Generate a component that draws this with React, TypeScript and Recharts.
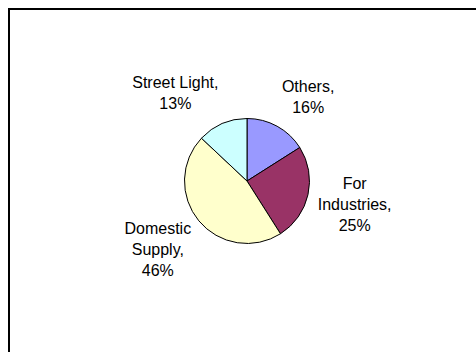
import { PieChart, Pie, Cell } from "recharts"

const categories = ["Others", "For Industries", "Domestic Supply", "Street Light"]
const shares = [16, 25, 46, 13]
const COLORS = ["#9999FF", "#993366", "#FFFFCC", "#CCFFFF"]

const data = categories.map((name, i) => ({ name, value: shares[i] }))

const FONT = '16px "Liberation Sans", Arial, sans-serif'
const LINE_H = 21
const WRAP_AT = 95

let ctx: CanvasRenderingContext2D | null = null
function measure(s: string) {
  if (!ctx) {
    ctx = document.createElement("canvas").getContext("2d")
    if (ctx) ctx.font = FONT
  }
  return ctx ? ctx.measureText(s).width : s.length * 8.5
}

// wrap the "name," part like Excel does when it gets too wide
function wrap(text: string) {
  const words = text.split(" ")
  const lines: string[] = []
  let cur = ""
  for (const w of words) {
    const next = cur ? cur + " " + w : w
    if (cur && measure(next) > WRAP_AT) {
      lines.push(cur)
      cur = w
    } else cur = next
  }
  if (cur) lines.push(cur)
  return lines
}

const clamp = (v: number) => Math.max(-1, Math.min(1, v))

function renderLabel(props: any) {
  const { cx, cy, midAngle, outerRadius, name, percent } = props
  const rad = (midAngle * Math.PI) / 180
  const r = outerRadius + 10
  const ax = cx + r * Math.cos(rad)
  const ay = cy - r * Math.sin(rad)
  const lines = [...wrap(name + ","), `${Math.round(percent * 100)}%`]
  const w = Math.max(...lines.map(measure))
  const h = lines.length * LINE_H
  // push the text box away from the pie, mostly sideways
  const x = ax + (clamp(2.5 * Math.cos(rad)) * w) / 2
  const y = ay - (clamp(1.1 * Math.sin(rad)) * h) / 2
  const top = y - h / 2
  return (
    <text textAnchor="middle" fill="#000" style={{ font: FONT }}>
      {lines.map((l, i) => (
        <tspan key={i} x={x} y={top + 15.8 + i * LINE_H}>
          {l}
        </tspan>
      ))}
    </text>
  )
}

export default function App() {
  return (
    <div
      style={{
        position: "absolute",
        left: 8,
        top: 8,
        width: 468,
        height: 344,
        boxSizing: "border-box",
        borderTop: "2px solid #000",
        borderLeft: "2px solid #000",
        background: "#fff",
      }}
    >
      <PieChart width={466} height={342}>
        <Pie
          data={data}
          dataKey="value"
          nameKey="name"
          cx={232}
          cy={166}
          outerRadius={62.5}
          startAngle={90}
          endAngle={-270}
          stroke="#000"
          strokeWidth={1}
          label={renderLabel}
          labelLine={false}
          isAnimationActive={false}
        >
          {data.map((d, i) => (
            <Cell key={d.name} fill={COLORS[i]} />
          ))}
        </Pie>
      </PieChart>
    </div>
  )
}
